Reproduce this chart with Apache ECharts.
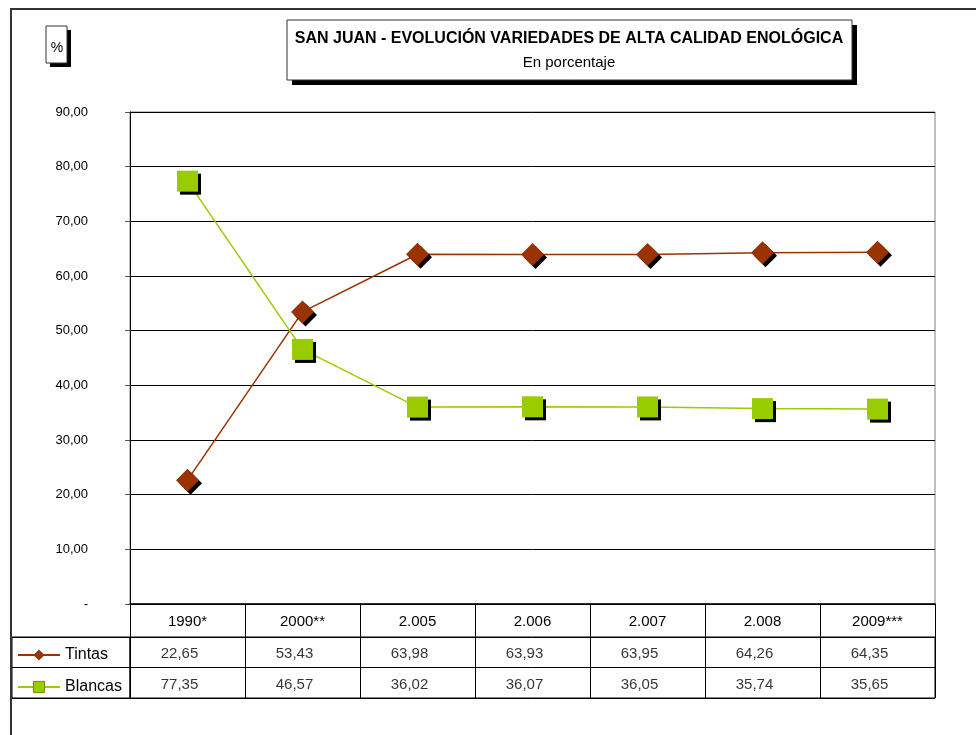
<!DOCTYPE html>
<html>
<head>
<meta charset="utf-8">
<title>San Juan - Evolución variedades de alta calidad enológica</title>
<script src="https://cdn.jsdelivr.net/npm/echarts@6/dist/echarts.min.js"></script>
<style>
  html, body { margin: 0; padding: 0; background: #fff; }
  #chart { width: 976px; height: 735px; }
</style>
</head>
<body>
<div id="chart"></div>
<script>
// Campañas (cabecera de la tabla y eje de categorías)
const years = ['1990*', '2000**', '2.005', '2.006', '2.007', '2.008', '2009***'];
// Participación de variedades tintas y blancas, en %
const tintas = [22.65, 53.43, 63.98, 63.93, 63.95, 64.26, 64.35];
const blancas = [77.35, 46.57, 36.02, 36.07, 36.05, 35.74, 35.65];
const rowNames = ['Tintas', 'Blancas'];
// Escala del eje de valores
const yMin = 0, yMax = 90, yStep = 10;

const FONT = "'Liberation Sans', Arial, sans-serif";
const RED = '#993300';
const GREEN = '#99CC00';

const fmt = v => v.toFixed(2).replace('.', ',');

const plot = { left: 130, top: 112, width: 805, height: 492 };
const table = { left: 130, top: 637, width: 805, height: 61 };
const rowHead = { left: 12, top: 637, width: 118, height: 61 };

// Recuadro con sombra negra desplazada (sombra dibujada aparte)
function shadowBox(x, y, w, h, d) {
  return [
    {
      type: 'rect', z: 1, silent: true,
      shape: { x: x + d, y: y + d, width: w, height: h },
      style: { fill: '#000' }
    },
    {
      type: 'rect', z: 2, silent: true,
      shape: { x: x, y: y, width: w, height: h },
      style: { fill: '#fff', stroke: '#333', lineWidth: 1 }
    }
  ];
}

function tableRow(name, values) {
  return {
    name: 'fila ' + name,
    type: 'scatter',
    xAxisIndex: 1,
    yAxisIndex: 1,
    symbolSize: 0,
    silent: true,
    data: years.map((y, i) => [y, name, values[i]]),
    label: {
      show: true,
      position: 'inside',
      offset: [-8, 2],
      formatter: p => fmt(p.value[2]),
      fontFamily: FONT,
      fontSize: 15,
      color: '#000'
    }
  };
}

const chart = echarts.init(document.getElementById('chart'), null, { renderer: 'canvas' });

chart.setOption({
  animation: false,
  backgroundColor: '#fff',
  graphic: [
    // marco exterior
    {
      type: 'rect', z: 0, silent: true,
      shape: { x: 11, y: 9, width: 1100, height: 1000 },
      style: { fill: 'none', stroke: '#333', lineWidth: 2 }
    }
  ]
    .concat(shadowBox(287, 20, 565, 60, 5))
    .concat(shadowBox(46, 26, 21, 37, 4)),
  title: [
    {
      text: 'SAN JUAN - EVOLUCIÓN VARIEDADES DE ALTA CALIDAD ENOLÓGICA',
      subtext: 'En porcentaje',
      left: 569,
      top: 31,
      textAlign: 'center',
      padding: 0,
      itemGap: 8,
      z: 5,
      textStyle: { fontFamily: FONT, fontSize: 16, fontWeight: 'bold', color: '#000' },
      subtextStyle: { fontFamily: FONT, fontSize: 15, color: '#000' }
    },
    {
      text: '%',
      left: 57,
      top: 41,
      textAlign: 'center',
      padding: 0,
      z: 5,
      textStyle: { fontFamily: FONT, fontSize: 14, fontWeight: 'normal', color: '#000' }
    }
  ],
  legend: {
    data: [
      { name: 'Tintas' },
      { name: 'Blancas', itemStyle: { borderColor: '#808000', borderWidth: 1 } }
    ],
    orient: 'vertical',
    left: 17,
    top: 645,
    padding: 0,
    itemWidth: 42,
    itemHeight: 14,
    itemGap: 12,
    selectedMode: false,
    textStyle: { fontFamily: FONT, fontSize: 16, lineHeight: 20, color: '#000' },
    itemStyle: { shadowColor: 'rgba(0,0,0,0)', shadowBlur: 0, shadowOffsetX: 0, shadowOffsetY: 0 }
  },
  grid: [
    Object.assign({ show: true, borderColor: '#808080', borderWidth: 1, backgroundColor: 'transparent' }, plot),
    Object.assign({ show: true, borderColor: '#000', borderWidth: 1 }, table),
    Object.assign({ show: true, borderColor: '#000', borderWidth: 1 }, rowHead)
  ],
  xAxis: [
    {
      gridIndex: 0,
      type: 'category',
      data: years,
      boundaryGap: true,
      axisLine: { show: true, lineStyle: { color: '#000', width: 1.5 } },
      axisTick: { show: true, length: 33, inside: false, lineStyle: { color: '#000', width: 1 } },
      axisLabel: { margin: 10, fontFamily: FONT, fontSize: 15, color: '#000' },
      splitLine: { show: false }
    },
    {
      gridIndex: 1,
      type: 'category',
      data: years,
      boundaryGap: true,
      axisLine: { show: false },
      axisTick: { show: false },
      axisLabel: { show: false },
      splitLine: { show: true, lineStyle: { color: '#000', width: 1 } }
    },
    {
      gridIndex: 2,
      type: 'value',
      show: false
    }
  ],
  yAxis: [
    {
      gridIndex: 0,
      type: 'value',
      min: yMin,
      max: yMax,
      interval: yStep,
      axisLine: { show: true, lineStyle: { color: '#000', width: 1 } },
      axisTick: { show: true, length: 5, lineStyle: { color: '#555' } },
      axisLabel: {
        margin: 42,
        fontFamily: FONT,
        fontSize: 13,
        color: '#000',
        formatter: v => (v === 0 ? '-' : fmt(v))
      },
      splitLine: { show: true, lineStyle: { color: '#000', width: 1 } }
    },
    {
      gridIndex: 1,
      type: 'category',
      data: rowNames,
      inverse: true,
      axisLine: { show: false },
      axisTick: { show: false },
      axisLabel: { show: false },
      splitLine: { show: true, lineStyle: { color: '#000', width: 1 } }
    },
    {
      gridIndex: 2,
      type: 'category',
      data: rowNames,
      inverse: true,
      axisLine: { show: false },
      axisTick: { show: false },
      axisLabel: { show: false },
      splitLine: { show: true, lineStyle: { color: '#000', width: 1 } }
    }
  ],
  series: [
    {
      name: 'Tintas',
      type: 'line',
      xAxisIndex: 0,
      yAxisIndex: 0,
      data: tintas,
      symbol: 'diamond',
      symbolSize: 23,
      lineStyle: { color: RED, width: 1.5 },
      itemStyle: {
        color: RED,
        borderWidth: 0,
        shadowColor: '#000',
        shadowBlur: 0,
        shadowOffsetX: 3,
        shadowOffsetY: 3
      },
      z: 3
    },
    {
      name: 'Blancas',
      type: 'line',
      xAxisIndex: 0,
      yAxisIndex: 0,
      data: blancas,
      symbol: 'rect',
      symbolSize: 21,
      lineStyle: { color: GREEN, width: 1.5 },
      itemStyle: {
        color: GREEN,
        borderWidth: 0,
        shadowColor: '#000',
        shadowBlur: 0,
        shadowOffsetX: 3,
        shadowOffsetY: 3
      },
      z: 3
    },
    tableRow('Tintas', tintas),
    tableRow('Blancas', blancas)
  ]
});
</script>
</body>
</html>
